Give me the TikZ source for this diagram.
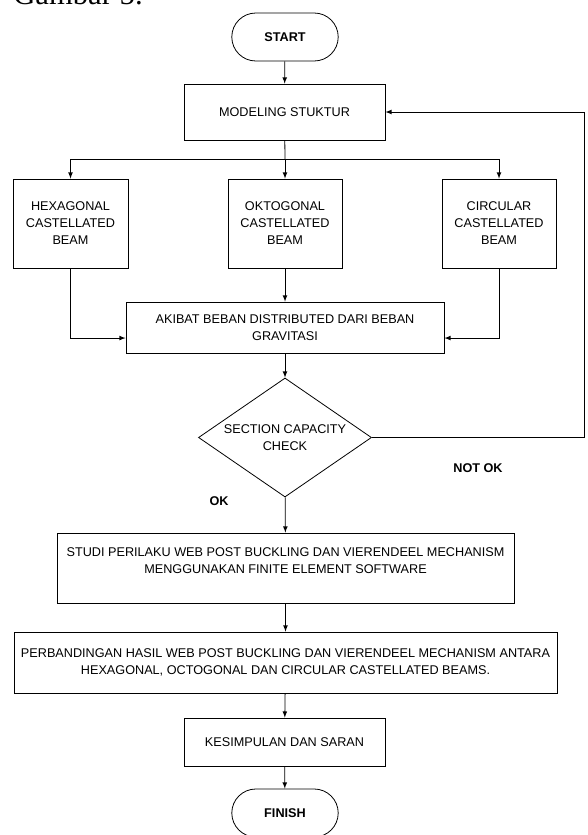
\documentclass[tikz,border=0pt]{standalone}
\usepackage{fontspec}
\setmainfont{Liberation Sans}
\newfontfamily\capfont{Liberation Serif}
\usetikzlibrary{arrows,shapes}
\tikzset{>=latex}
\tikzstyle{process}=[rectangle,draw=black,line width=0.6pt,align=center,font=\fontsize{9.5}{12.75}\selectfont]
\tikzstyle{terminal}=[rounded rectangle,draw=black,line width=0.6pt,minimum width=85.5pt,minimum height=36pt,font=\bfseries\fontsize{9.5}{12}\selectfont]
\tikzstyle{decision}=[diamond,draw=black,line width=0.6pt,minimum width=129.75pt,minimum height=89.25pt,inner sep=0pt]
\tikzstyle{flow}=[->,line width=0.6pt]
\tikzstyle{answer}=[font=\bfseries\fontsize{9.5}{12}\selectfont]

\begin{document}
\begin{tikzpicture}[x=0.75pt,y=-0.75pt,inner sep=1mm]
	\path[use as bounding box,clip] (0,0) rectangle (587,835);
	\node[anchor=base west,inner sep=0pt,font=\capfont\fontsize{23}{23}\selectfont] (caption) at (13,4) {Gambar 5.};
	
	\node[terminal] (start) at (285,37) {START};
	\node[process,minimum width=150.75pt,minimum height=42pt] (model) at (284.5,112) {MODELING STUKTUR};
	\node[process,minimum width=86.25pt,minimum height=66.75pt] (hexa) at (70.5,223.5) {HEXAGONAL\\CASTELLATED\\BEAM};
	\node[process,minimum width=85.5pt,minimum height=66.75pt] (okto) at (285,223.5) {OKTOGONAL\\CASTELLATED\\BEAM};
	\node[process,minimum width=85.5pt,minimum height=66.75pt] (circ) at (499,223.5) {CIRCULAR\\CASTELLATED\\BEAM};
	\node[process,minimum width=238.5pt,minimum height=38.25pt] (akibat) at (285,327.5) {AKIBAT BEBAN DISTRIBUTED DARI BEBAN\\GRAVITASI};
	\node[decision] (check) at (285,437.5) {};
	\node[process,draw=none] (checktext) at (285,437.5) {SECTION CAPACITY\\CHECK};
	\node[answer] (notok) at (478,468) {NOT OK};
	\node[answer] (ok) at (219,501) {OK};
	\node[process,minimum width=342.75pt,minimum height=52.5pt,text depth=11pt] (studi) at (285.5,568) {STUDI PERILAKU WEB POST BUCKLING DAN VIERENDEEL MECHANISM\\MENGGUNAKAN FINITE ELEMENT SOFTWARE};
	\node[process,minimum width=407.25pt,minimum height=45.75pt] (banding) at (285.5,662.5) {PERBANDINGAN HASIL WEB POST BUCKLING DAN VIERENDEEL MECHANISM ANTARA\\HEXAGONAL, OCTOGONAL DAN CIRCULAR CASTELLATED BEAMS.};
	\node[process,minimum width=150.75pt,minimum height=36pt] (simpul) at (284.5,742) {KESIMPULAN DAN SARAN};
	\node[terminal] (finish) at (285,813) {FINISH};
	
	\coordinate (split) at (285,159);
	\coordinate (back) at (584,437.5);
	
	\draw[flow] (start) -- (model);
	\draw[line width=0.6pt] (model) -- (split);
	\draw[flow] (split) -| (hexa);
	\draw[flow] (split) -- (okto);
	\draw[flow] (split) -| (circ);
	\draw[flow] (hexa) |- ([yshift=-7.9pt]akibat.west);
	\draw[flow] (okto) -- (akibat);
	\draw[flow] (circ) |- ([yshift=-7.9pt]akibat.east);
	\draw[flow] (akibat) -- (check);
	\draw[flow] (check.east) -- (back) |- (model.east);
	\draw[flow] (check) -- (studi);
	\draw[flow] (studi) -- (banding);
	\draw[flow] (banding) -- (simpul);
	\draw[flow] (simpul) -- (finish);
\end{tikzpicture}
\end{document}
